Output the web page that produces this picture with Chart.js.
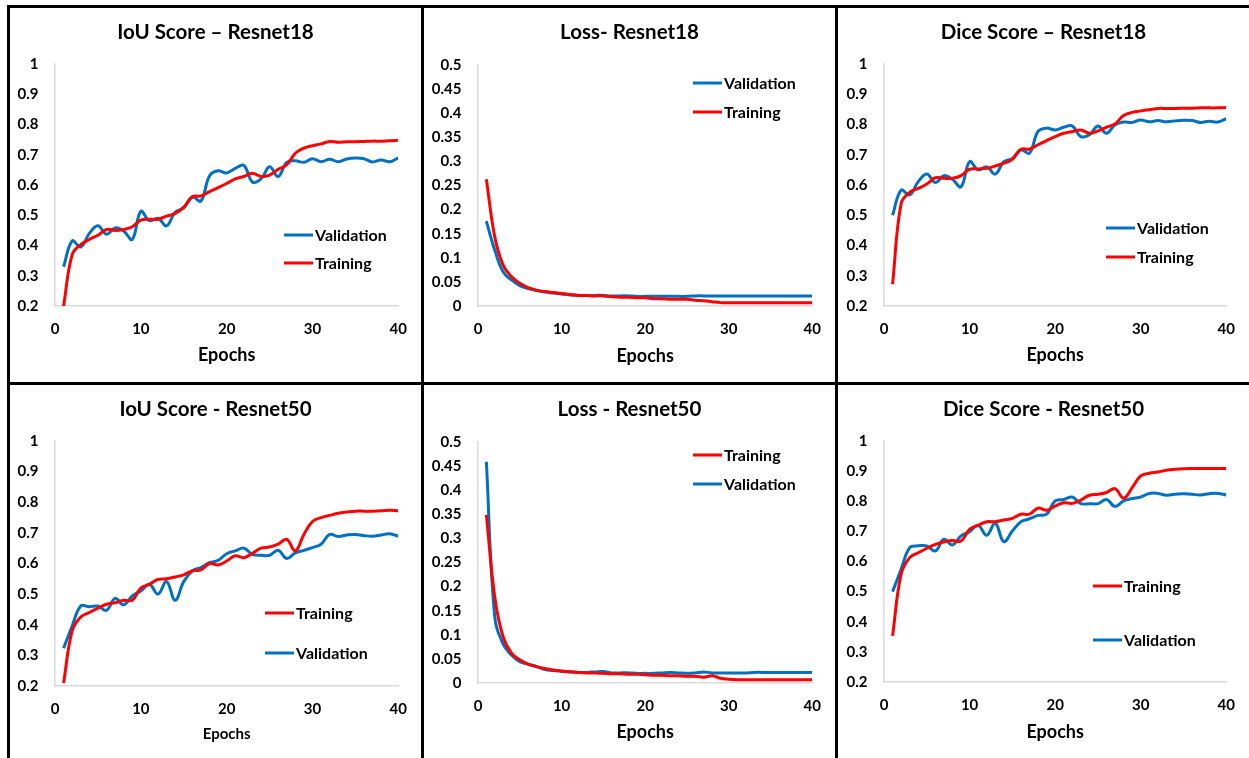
<!DOCTYPE html>
<html>
<head>
<meta charset="utf-8">
<script src="https://cdn.jsdelivr.net/npm/chart.js@4"></script>
<style>
  body { margin: 0; width: 1249px; height: 758px; overflow: hidden; background: #fff; position: relative; }
  .ln { position: absolute; background: #000; }
  canvas { position: absolute; }
</style>
</head>
<body>
<!-- panel frame -->
<div class="ln" style="left:7px;top:5px;width:1242px;height:3px"></div>
<div class="ln" style="left:7px;top:382px;width:1242px;height:3px"></div>
<div class="ln" style="left:7px;top:5px;width:3px;height:753px"></div>
<div class="ln" style="left:421px;top:5px;width:3px;height:753px"></div>
<div class="ln" style="left:835px;top:5px;width:3px;height:753px"></div>

<canvas id="c1" width="411" height="374" style="left:10px;top:8px"></canvas>
<canvas id="c2" width="411" height="374" style="left:424px;top:8px"></canvas>
<canvas id="c3" width="411" height="374" style="left:838px;top:8px"></canvas>
<canvas id="c4" width="411" height="373" style="left:10px;top:385px"></canvas>
<canvas id="c5" width="411" height="373" style="left:424px;top:385px"></canvas>
<canvas id="c6" width="411" height="373" style="left:838px;top:385px"></canvas>

<script>
"use strict";

// epochs (x values)
const epochs = [1,2,3,4,5,6,7,8,9,10,11,12,13,14,15,16,17,18,19,20,
  21,22,23,24,25,26,27,28,29,30,31,32,33,34,35,36,37,38,39,40];

// tick labels
const epochTicks = [0, 10, 20, 30, 40];
const scoreTicks = [0.2, 0.3, 0.4, 0.5, 0.6, 0.7, 0.8, 0.9, 1];
const lossTicks = [0, 0.05, 0.1, 0.15, 0.2, 0.25, 0.3, 0.35, 0.4, 0.45, 0.5];

// Resnet18
const iouR18Val = [0.33,0.415,0.395,0.44,0.465,0.437,0.458,0.448,0.42,0.513,0.482,0.49,0.465,0.51,0.525,0.56,0.547,0.63,0.647,0.64,
  0.655,0.665,0.61,0.62,0.66,0.628,0.675,0.68,0.675,0.687,0.677,0.685,0.677,0.686,0.689,0.687,0.676,0.683,0.677,0.69];
const iouR18Train = [0.2,0.37,0.403,0.42,0.434,0.453,0.45,0.453,0.462,0.484,0.487,0.487,0.497,0.506,0.526,0.561,0.564,0.578,0.591,0.605,
  0.62,0.628,0.639,0.628,0.633,0.652,0.667,0.705,0.722,0.73,0.736,0.744,0.741,0.743,0.743,0.744,0.745,0.745,0.746,0.748];
const lossR18Val = [0.176,0.116,0.071,0.054,0.042,0.036,0.032,0.029,0.027,0.025,0.023,0.022,0.022,0.022,0.022,0.021,0.021,0.021,0.02,0.02,
  0.02,0.02,0.02,0.02,0.02,0.021,0.021,0.021,0.021,0.021,0.021,0.021,0.021,0.021,0.021,0.021,0.021,0.021,0.021,0.021];
const lossR18Train = [0.263,0.144,0.085,0.061,0.047,0.038,0.033,0.03,0.028,0.026,0.024,0.022,0.022,0.021,0.021,0.019,0.018,0.018,0.017,0.017,
  0.015,0.015,0.014,0.014,0.014,0.012,0.011,0.009,0.007,0.007,0.007,0.007,0.007,0.007,0.007,0.007,0.007,0.007,0.007,0.007];
const diceR18Val = [0.5,0.583,0.567,0.611,0.636,0.608,0.631,0.619,0.594,0.677,0.65,0.66,0.636,0.677,0.688,0.716,0.705,0.777,0.788,0.782,
  0.791,0.795,0.76,0.766,0.795,0.771,0.799,0.808,0.807,0.815,0.809,0.813,0.809,0.812,0.814,0.813,0.807,0.811,0.808,0.819];
const diceR18Train = [0.272,0.539,0.576,0.589,0.603,0.624,0.622,0.622,0.631,0.652,0.653,0.655,0.663,0.672,0.685,0.718,0.719,0.733,0.747,0.76,
  0.771,0.777,0.782,0.771,0.779,0.791,0.802,0.83,0.84,0.845,0.849,0.853,0.853,0.853,0.854,0.854,0.855,0.855,0.855,0.856];

// Resnet50
const iouR50Train = [0.21,0.38,0.425,0.44,0.454,0.467,0.472,0.48,0.48,0.52,0.532,0.548,0.55,0.556,0.563,0.576,0.579,0.6,0.595,0.608,
  0.625,0.619,0.633,0.65,0.654,0.663,0.679,0.641,0.695,0.737,0.75,0.757,0.764,0.768,0.771,0.771,0.771,0.772,0.774,0.772];
const iouR50Val = [0.323,0.396,0.461,0.459,0.461,0.447,0.486,0.465,0.494,0.51,0.532,0.5,0.541,0.48,0.541,0.576,0.587,0.603,0.61,0.632,
  0.641,0.65,0.63,0.627,0.627,0.643,0.616,0.635,0.643,0.652,0.663,0.695,0.688,0.693,0.695,0.691,0.689,0.693,0.697,0.689];
const lossR50Train = [0.349,0.179,0.096,0.062,0.048,0.039,0.034,0.03,0.027,0.025,0.0235,0.022,0.021,0.021,0.02,0.019,0.019,0.018,0.018,0.017,
  0.016,0.016,0.015,0.015,0.014,0.014,0.012,0.015,0.01,0.008,0.007,0.007,0.007,0.007,0.007,0.007,0.007,0.007,0.007,0.007];
const lossR50Val = [0.459,0.138,0.081,0.058,0.044,0.039,0.034,0.028,0.026,0.024,0.023,0.022,0.022,0.023,0.024,0.021,0.021,0.021,0.02,0.02,
  0.02,0.021,0.022,0.021,0.02,0.021,0.023,0.021,0.021,0.021,0.021,0.021,0.022,0.022,0.022,0.022,0.022,0.022,0.022,0.022];
const diceR50Train = [0.353,0.558,0.613,0.629,0.644,0.657,0.665,0.67,0.668,0.707,0.72,0.732,0.732,0.738,0.743,0.757,0.757,0.777,0.77,0.784,
  0.795,0.793,0.804,0.82,0.823,0.829,0.842,0.81,0.845,0.884,0.893,0.897,0.903,0.906,0.908,0.909,0.909,0.909,0.909,0.909];
const diceR50Val = [0.5,0.574,0.646,0.652,0.652,0.635,0.674,0.655,0.685,0.699,0.72,0.687,0.727,0.666,0.701,0.732,0.742,0.753,0.757,0.801,
  0.806,0.814,0.792,0.792,0.792,0.806,0.783,0.801,0.809,0.814,0.826,0.826,0.82,0.823,0.825,0.823,0.821,0.825,0.826,0.821];

const BLUE = '#0070C0';
const RED = '#FF0000';
const FONT = 'Lato, "Open Sans", sans-serif';

Chart.defaults.font.family = FONT;
Chart.defaults.color = '#000';

function pts(ys) {
  return epochs.map((e, i) => ({ x: e, y: ys[i] }));
}

// title + legend drawn inside the panel
const panelText = {
  id: 'panelText',
  afterDatasetsDraw(chart, args, opts) {
    const ctx = chart.ctx;
    ctx.save();
    ctx.fillStyle = '#000';
    ctx.textBaseline = 'middle';
    ctx.textAlign = 'center';
    ctx.font = 'bold 20.5px ' + FONT;
    ctx.fillText(opts.title, chart.width / 2, opts.titleY);
    ctx.textAlign = 'left';
    ctx.font = 'bold 16px ' + FONT;
    opts.items.forEach((it, i) => {
      const y = opts.legendY[i];
      ctx.strokeStyle = it.color;
      ctx.lineWidth = 3;
      ctx.beginPath();
      ctx.moveTo(opts.legendX, y);
      ctx.lineTo(opts.legendX + 29, y);
      ctx.stroke();
      ctx.fillText(it.label, opts.legendX + 31, y + 1);
    });
    ctx.restore();
  }
};

function makeChart(id, cfg) {
  const ctx = document.getElementById(id).getContext('2d');
  const isLoss = cfg.loss;
  const yTicks = isLoss ? lossTicks : scoreTicks;
  const canvasH = ctx.canvas.height;
  return new Chart(ctx, {
    type: 'line',
    data: {
      datasets: [{
        label: 'Training',
        data: pts(cfg.train),
        borderColor: RED,
        borderWidth: 3,
        pointRadius: 0,
        tension: 0.4,
        fill: false
      }, {
        label: 'Validation',
        data: pts(cfg.val),
        borderColor: BLUE,
        borderWidth: 3,
        pointRadius: 0,
        tension: 0.4,
        fill: false
      }]
    },
    options: {
      responsive: false,
      animation: false,
      events: [],
      layout: { padding: { left: 0, right: cfg.padRight, top: cfg.top, bottom: 0 } },
      plugins: {
        legend: { display: false },
        tooltip: { enabled: false },
        panelText: {
          title: cfg.title,
          titleY: 24,
          items: cfg.legend,
          legendX: cfg.legendX,
          legendY: cfg.legendY
        }
      },
      scales: {
        x: {
          type: 'linear',
          min: 0,
          max: 40,
          afterBuildTicks: s => { s.ticks = epochTicks.map(v => ({ value: v })); },
          afterFit: s => { s.height = canvasH - cfg.bottom; },
          grid: { display: false, drawTicks: false },
          border: { display: true, color: '#d9d9d9', width: 1.5 },
          ticks: { padding: 14, font: { size: 15, weight: 'bold' }, maxRotation: 0, autoSkip: false },
          title: {
            display: true,
            text: 'Epochs',
            font: { size: cfg.epochSize || 18, weight: 'bold' },
            padding: { top: 0, bottom: cfg.epochPad }
          }
        },
        y: {
          min: isLoss ? 0 : 0.2,
          max: isLoss ? 0.5 : 1,
          afterBuildTicks: s => { s.ticks = yTicks.map(v => ({ value: v })); },
          afterFit: s => { s.width = cfg.left; },
          grid: { display: false, drawTicks: false },
          border: { display: true, color: '#d9d9d9', width: 1.5 },
          ticks: {
            padding: 16.5,
            font: { size: 15, weight: 'bold' },
            autoSkip: false,
            callback: v => String(Number(v.toFixed(2)))
          }
        }
      }
    },
    plugins: [panelText]
  });
}

const valFirst = [{ label: 'Validation', color: BLUE }, { label: 'Training', color: RED }];
const trainFirst = [{ label: 'Training', color: RED }, { label: 'Validation', color: BLUE }];

makeChart('c1', { title: 'IoU Score \u2013 Resnet18', train: iouR18Train, val: iouR18Val,
  left: 45, padRight: 22, top: 56, bottom: 298, epochPad: 16,
  legend: valFirst, legendX: 274, legendY: [227, 255] });
makeChart('c2', { title: 'Loss- Resnet18', train: lossR18Train, val: lossR18Val, loss: true,
  left: 54, padRight: 21, top: 57, bottom: 298, epochPad: 15,
  legend: valFirst, legendX: 269, legendY: [75, 104] });
makeChart('c3', { title: 'Dice Score \u2013 Resnet18', train: diceR18Train, val: diceR18Val,
  left: 46, padRight: 21, top: 56, bottom: 298, epochPad: 16,
  legend: valFirst, legendX: 268, legendY: [220, 249] });
makeChart('c4', { title: 'IoU Score - Resnet50', train: iouR50Train, val: iouR50Val,
  left: 45, padRight: 22, top: 56, bottom: 301, epochPad: 15, epochSize: 15,
  legend: trainFirst, legendX: 255, legendY: [228, 268] });
makeChart('c5', { title: 'Loss - Resnet50', train: lossR50Train, val: lossR50Val, loss: true,
  left: 54, padRight: 21, top: 57, bottom: 298, epochPad: 15,
  legend: trainFirst, legendX: 269, legendY: [70, 99] });
makeChart('c6', { title: 'Dice Score - Resnet50', train: diceR50Train, val: diceR50Val,
  left: 46, padRight: 21, top: 56, bottom: 297, epochPad: 15,
  legend: trainFirst, legendX: 255, legendY: [201, 255] });
</script>
</body>
</html>
